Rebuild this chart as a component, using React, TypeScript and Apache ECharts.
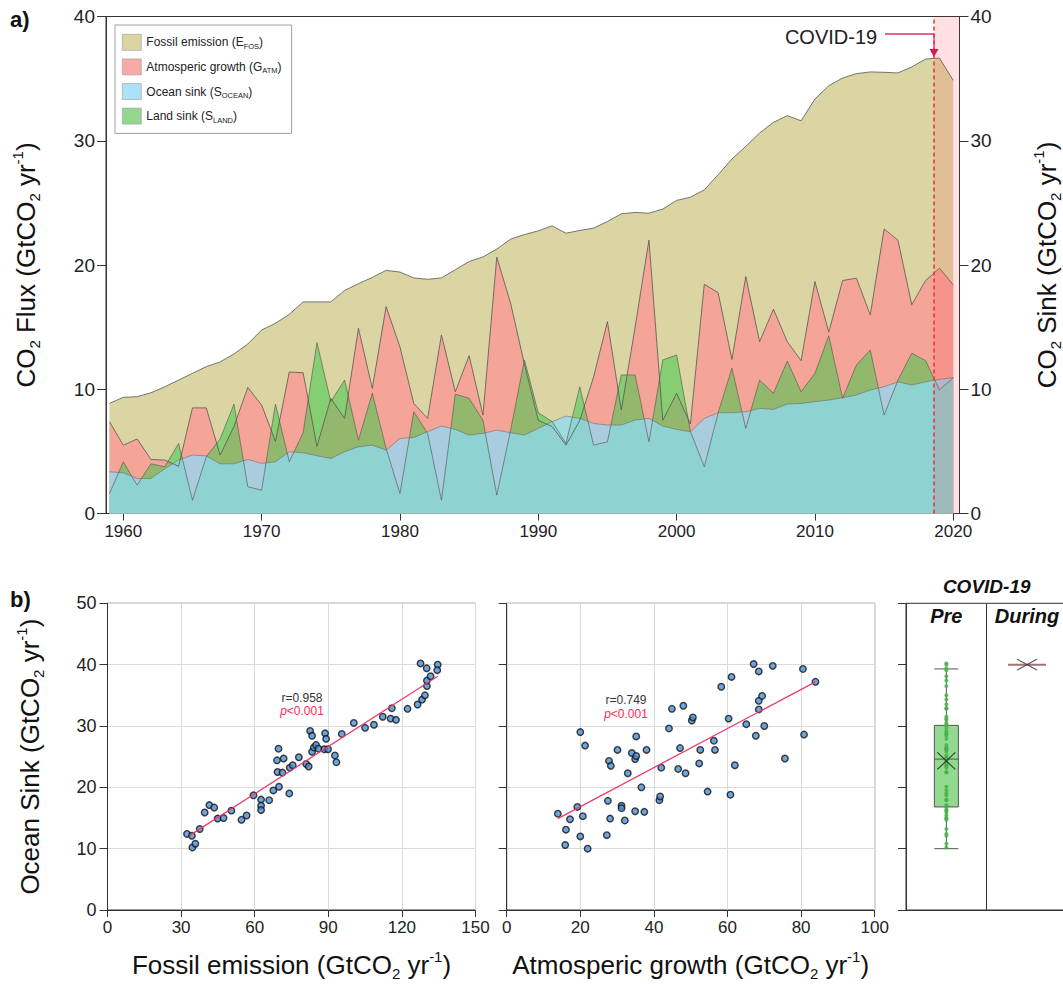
import React, { useEffect, useRef } from "react";
import * as echarts from "echarts";

const FONT = "'Liberation Sans', Arial, Helvetica, sans-serif";

// ---------- panel a) data (GtCO2 / yr) ----------
const YEARS = Array.from({ length: 62 }, (_, i) => 1959 + i);
const FOSSIL = [
  8.86, 9.35, 9.4, 9.72, 10.2, 10.74, 11.28, 11.82, 12.2, 12.84,
  13.64, 14.77, 15.31, 16.03, 17.03, 17.03, 17.03, 17.95, 18.5, 19.0,
  19.57, 19.43, 18.96, 18.85, 18.96, 19.62, 20.28, 20.65, 21.28, 22.08,
  22.45, 22.75, 23.15, 22.56, 22.78, 22.97, 23.5, 24.12, 24.23, 24.17,
  24.5, 25.2, 25.46, 26.05, 27.26, 28.53, 29.55, 30.62, 31.48, 32.02,
  31.61, 33.36, 34.43, 35.05, 35.4, 35.54, 35.51, 35.46, 35.94, 36.58,
  36.66, 34.86,
];
const ATM = [
  7.39, 5.5, 6.0, 4.35, 4.3, 3.8, 8.5, 8.5, 4.7, 7.0,
  10.15, 8.73, 5.8, 11.39, 11.33, 5.4, 9.27, 7.65, 14.9, 10.07,
  16.65, 13.4, 8.86, 7.65, 14.37, 9.8, 12.7, 7.92, 20.63, 16.92,
  12.0, 7.5, 7.0, 5.5, 7.5, 11.0, 15.44, 8.33, 15.0, 22.0,
  7.5, 9.67, 7.2, 18.45, 17.78, 12.4, 19.07, 13.83, 16.44, 13.83,
  12.3, 18.67, 14.6, 18.75, 18.94, 15.98, 22.9, 22.0, 16.8, 18.75,
  19.74, 18.4,
];
const LAND = [
  1.6, 4.16, 2.28, 4.0, 3.76, 5.64, 1.07, 4.57, 6.0, 8.8,
  2.15, 1.88, 8.8, 4.16, 6.5, 13.75, 9.0, 10.74, 5.9, 9.67,
  5.24, 1.61, 8.19, 6.45, 1.07, 9.6, 9.27, 7.5, 1.48, 6.7,
  12.36, 8.1, 7.4, 5.64, 10.2, 5.5, 5.77, 11.15, 11.15, 5.77,
  12.36, 12.76, 6.6, 3.76, 8.1, 11.7, 6.85, 10.74, 9.67, 12.27,
  9.8, 11.28, 14.3, 9.27, 11.95, 13.16, 7.92, 10.74, 12.9, 12.3,
  9.94, 10.93,
];
const OCEAN = [
  3.36, 3.28, 2.82, 2.82, 3.6, 4.3, 4.7, 4.64, 4.0, 4.0,
  4.35, 4.03, 4.16, 4.97, 4.89, 4.65, 4.43, 4.97, 5.37, 5.5,
  5.1, 6.04, 6.12, 6.58, 7.04, 6.77, 6.31, 6.45, 6.71, 6.5,
  6.31, 6.85, 7.39, 7.84, 7.65, 7.25, 7.12, 7.12, 7.52, 7.65,
  7.04, 6.77, 6.58, 7.65, 8.11, 8.11, 8.19, 8.46, 8.38, 8.81,
  8.86, 9.0, 9.13, 9.32, 9.54, 9.94, 10.2, 10.6, 10.34, 10.6,
  10.8, 10.93,
];
const X_TICKS = [1960, 1970, 1980, 1990, 2000, 2010, 2020];
const X_MIN = 1958.75;
const X_MAX = 2020.45;
const COVID_START = 2018.62;

// ---------- panel b) data ----------
const FOSSIL_X = [
  32.4, 34.4, 34.6, 35.8, 37.6, 39.6, 41.5, 43.5, 44.9, 47.3,
  50.5, 54.6, 56.7, 59.5, 62.6, 62.6, 62.6, 65.9, 67.6, 69.9,
  74.1, 69.3, 71.3, 69.1, 71.8, 69.7, 74.3, 75.5, 78.0, 81.0,
  82.0, 82.6, 83.4, 83.4, 84.1, 85.0, 86.0, 88.7, 89.1, 88.4,
  89.9, 92.7, 93.3, 95.5, 100.4, 105.0, 108.6, 112.2, 115.9, 115.4,
  117.6, 122.3, 126.4, 128.2, 129.4, 130.2, 130.2, 131.7, 127.6, 130.1,
  134.6, 134.4,
];
const SINK_Y1 = [
  12.4, 12.1, 10.2, 10.8, 13.2, 15.9, 17.1, 16.7, 14.9, 15.0,
  16.2, 14.7, 15.4, 18.7, 18.0, 17.0, 16.3, 17.9, 19.5, 20.1,
  19.0, 22.5, 22.4, 24.4, 24.7, 26.3, 23.2, 23.6, 24.9, 23.8,
  23.4, 29.2, 28.4, 25.8, 26.5, 26.9, 26.3, 28.8, 27.9, 26.2,
  26.2, 25.2, 24.1, 28.7, 30.5, 29.7, 30.2, 31.5, 32.9, 31.2,
  31.0, 32.8, 33.5, 34.3, 35.0, 36.5, 37.4, 38.1, 40.2, 39.4,
  40.0, 39.1,
];
const FIT1 = [[33.7, 12.2], [134.6, 38.1]];

const ATM_X = [
  13.9, 16.1, 15.9, 17.2, 19.2, 20.0, 20.0, 20.7, 21.3, 22.0,
  27.2, 27.5, 27.8, 28.3, 28.1, 30.1, 31.2, 31.2, 32.1, 32.9,
  34.0, 34.9, 35.2, 35.2, 34.9, 36.6, 37.4, 38.0, 41.5, 41.7,
  42.0, 44.1, 44.9, 46.6, 47.1, 48.0, 48.6, 50.3, 50.6, 52.3,
  52.6, 54.6, 56.3, 56.6, 58.3, 60.3, 60.8, 61.1, 62.0, 65.1,
  67.1, 67.7, 68.5, 68.5, 68.5, 69.4, 70.0, 72.3, 75.6, 80.5,
  80.8, 83.9,
];
const SINK_Y2 = [
  15.7, 13.1, 10.6, 14.8, 16.8, 29.0, 12.0, 15.3, 26.8, 10.0,
  12.2, 17.8, 24.3, 23.5, 14.9, 26.1, 17.0, 16.6, 14.6, 22.3,
  25.6, 24.6, 25.1, 28.3, 16.1, 20.0, 16.0, 26.1, 17.9, 18.5,
  23.2, 29.6, 32.8, 23.0, 26.4, 33.3, 22.3, 30.9, 31.4, 23.9,
  26.1, 19.3, 27.6, 26.1, 36.4, 31.2, 18.8, 38.0, 23.6, 30.3,
  40.1, 28.4, 32.7, 34.1, 38.9, 34.9, 30.0, 39.8, 24.7, 39.3,
  28.6, 37.2,
];
const FIT2 = [[13.9, 14.9], [83.9, 37.2]];

const BOX_CATEGORIES = ["Pre", "During"];
const PRE_BOX = [10.0, 16.8, 24.6, 30.1, 39.3]; // min, Q1, median, Q3, max
const PRE_MEAN = 24.3;
const DURING_VALUE = 40.0;

const SERIES_NAMES = ["Fossil emission", "Atmosperic growth", "Ocean sink", "Land sink"];
const LEGEND_LABELS: Record<string, string> = {
  "Fossil emission": "{a|Fossil emission (E}{s|FOS}{a|)}",
  "Atmosperic growth": "{a|Atmosperic growth (G}{s|ATM}{a|)}",
  "Ocean sink": "{a|Ocean sink (S}{s|OCEAN}{a|)}",
  "Land sink": "{a|Land sink (S}{s|LAND}{a|)}",
};
const SWATCH: Record<string, string> = {
  "Fossil emission": "#dbd5a3",
  "Atmosperic growth": "#f8aaa8",
  "Ocean sink": "#ace2f8",
  "Land sink": "#93d68d",
};

const pairs = (xs: number[], ys: number[]) => xs.map((x, i) => [x, ys[i]]);

const NAME_RICH = {
  a: { fontSize: 26, fontFamily: FONT, color: "#111", lineHeight: 32 },
  s: { fontSize: 15, fontFamily: FONT, color: "#111", lineHeight: 10, verticalAlign: "bottom" },
  p: { fontSize: 15, fontFamily: FONT, color: "#111", lineHeight: 19, verticalAlign: "top" },
};

const X_PATH = "path://M0,0L20,20M20,0L0,20";

export default function App() {
  const ref = useRef<HTMLDivElement>(null);

  useEffect(() => {
    if (!ref.current) return;
    const chart = echarts.init(ref.current, undefined, { renderer: "svg" });

    const tickStyle = { color: "#333", width: 1 };
    const labelBase = { fontFamily: FONT, color: "#222" };
    const gridBase = { show: true, borderColor: "#333", borderWidth: 1, outerBoundsMode: "none", containLabel: false };

    const option: any = {
      animation: false,
      textStyle: { fontFamily: FONT },
      grid: [
        { ...gridBase, left: 106, top: 16.5, width: 853.5, height: 497 },
        { ...gridBase, left: 107.5, top: 603.3, width: 368, height: 306.7 },
        { ...gridBase, left: 506.7, top: 603.3, width: 368, height: 306.7 },
        { ...gridBase, left: 906, top: 603.3, width: 161.4, height: 306.7 },
      ],
      legend: {
        data: SERIES_NAMES.map((n) => ({
          name: n,
          icon: "rect",
          itemStyle: { color: SWATCH[n], borderColor: "#9a9a9a", borderWidth: 0.6 },
        })),
        orient: "vertical",
        left: 115,
        top: 25,
        padding: [9, 10, 9, 7],
        itemWidth: 19,
        itemHeight: 16,
        itemGap: 8,
        backgroundColor: "#fff",
        borderColor: "#a0a0a0",
        borderWidth: 1,
        selectedMode: false,
        formatter: (name: string) => LEGEND_LABELS[name],
        textStyle: {
          rich: {
            a: { fontSize: 12, fontFamily: FONT, color: "#222", lineHeight: 16 },
            s: { fontSize: 7.5, fontFamily: FONT, color: "#222", lineHeight: 6, verticalAlign: "bottom" },
          },
        },
      },
      xAxis: [
        {
          gridIndex: 0,
          type: "value",
          min: X_MIN,
          max: X_MAX,
          axisLine: { show: true, lineStyle: tickStyle },
          axisTick: { show: true, customValues: X_TICKS, length: 7, lineStyle: tickStyle },
          axisLabel: {
            customValues: X_TICKS,
            fontSize: 17,
            margin: 9,
            formatter: (v: number) => String(v),
            ...labelBase,
          },
          splitLine: { show: false },
        },
        {
          gridIndex: 1,
          type: "value",
          min: 0,
          max: 150,
          interval: 30,
          axisLine: { show: true, lineStyle: tickStyle },
          axisTick: { show: true, length: 7, lineStyle: tickStyle },
          axisLabel: { fontSize: 17, margin: 9, ...labelBase },
          splitLine: { show: true, lineStyle: { color: "#dadada", width: 1 } },
          name: "{a|Fossil emission (GtCO}{s|2}{a| yr}{p|-1}{a|)}",
          nameLocation: "middle",
          nameGap: 39,
          nameTextStyle: { rich: NAME_RICH },
        },
        {
          gridIndex: 2,
          type: "value",
          min: 0,
          max: 100,
          interval: 20,
          axisLine: { show: true, lineStyle: tickStyle },
          axisTick: { show: true, length: 7, lineStyle: tickStyle },
          axisLabel: { fontSize: 17, margin: 9, ...labelBase },
          splitLine: { show: true, lineStyle: { color: "#dadada", width: 1 } },
          name: "{a|Atmosperic growth (GtCO}{s|2}{a| yr}{p|-1}{a|)}",
          nameLocation: "middle",
          nameGap: 39,
          nameTextStyle: { rich: NAME_RICH },
        },
        {
          gridIndex: 3,
          type: "category",
          data: BOX_CATEGORIES,
          position: "top",
          axisLine: { show: true, lineStyle: tickStyle },
          axisTick: { show: false },
          axisLabel: {
            inside: true,
            interval: 0,
            margin: 3,
            fontSize: 20,
            fontWeight: "bold",
            fontStyle: "italic",
            ...labelBase,
            color: "#111",
          },
          splitLine: { show: true, interval: 0, lineStyle: { color: "#333", width: 1 } },
          name: "COVID-19",
          nameLocation: "middle",
          nameGap: 7,
          nameTextStyle: { fontSize: 19, fontWeight: "bold", fontStyle: "italic", color: "#111", fontFamily: FONT },
        },
      ],
      yAxis: [
        {
          gridIndex: 0,
          type: "value",
          min: 0,
          max: 40,
          interval: 10,
          position: "left",
          axisLine: { show: true, lineStyle: tickStyle },
          axisTick: { show: true, length: 9, lineStyle: tickStyle },
          axisLabel: { fontSize: 19, margin: 11, ...labelBase },
          splitLine: { show: false },
          name: "{a|CO}{s|2}{a| Flux (GtCO}{s|2}{a| yr}{p|-1}{a|)}",
          nameLocation: "middle",
          nameGap: 64,
          nameRotate: 90,
          nameTextStyle: { rich: NAME_RICH },
        },
        {
          gridIndex: 0,
          type: "value",
          min: 0,
          max: 40,
          interval: 10,
          position: "right",
          axisLine: { show: true, lineStyle: tickStyle },
          axisTick: { show: true, length: 9, lineStyle: tickStyle },
          axisLabel: { fontSize: 19, margin: 11, ...labelBase },
          splitLine: { show: false },
          name: "{a|CO}{s|2}{a| Sink (GtCO}{s|2}{a| yr}{p|-1}{a|)}",
          nameLocation: "middle",
          nameGap: 71,
          nameRotate: 90,
          nameTextStyle: { rich: NAME_RICH },
        },
        {
          gridIndex: 1,
          type: "value",
          min: 0,
          max: 50,
          interval: 10,
          axisLine: { show: true, lineStyle: tickStyle },
          axisTick: { show: true, length: 8, lineStyle: tickStyle },
          axisLabel: { fontSize: 18, margin: 11, ...labelBase },
          splitLine: { show: true, lineStyle: { color: "#dadada", width: 1 } },
          name: "{a|Ocean Sink (GtCO}{s|2}{a| yr}{p|-1}{a|)}",
          nameLocation: "middle",
          nameGap: 62,
          nameRotate: 90,
          nameTextStyle: { rich: NAME_RICH },
        },
        {
          gridIndex: 2,
          type: "value",
          min: 0,
          max: 50,
          interval: 10,
          axisLine: { show: true, lineStyle: tickStyle },
          axisTick: { show: true, length: 8, lineStyle: tickStyle },
          axisLabel: { show: false },
          splitLine: { show: true, lineStyle: { color: "#dadada", width: 1 } },
        },
        {
          gridIndex: 3,
          type: "value",
          min: 0,
          max: 50,
          interval: 10,
          axisLine: { show: true, lineStyle: tickStyle },
          axisTick: { show: true, length: 8, lineStyle: tickStyle },
          axisLabel: { show: false },
          splitLine: { show: false },
        },
      ],
      series: [
        {
          name: "Fossil emission",
          type: "line",
          xAxisIndex: 0,
          yAxisIndex: 0,
          data: pairs(YEARS, FOSSIL),
          symbol: "none",
          lineStyle: { color: "#555", width: 0.8 },
          itemStyle: { color: SWATCH["Fossil emission"] },
          areaStyle: { color: "#dbd5a3", opacity: 1 },
        },
        {
          name: "Atmosperic growth",
          type: "line",
          xAxisIndex: 0,
          yAxisIndex: 0,
          data: pairs(YEARS, ATM),
          symbol: "none",
          lineStyle: { color: "#555", width: 0.8 },
          itemStyle: { color: SWATCH["Atmosperic growth"] },
          areaStyle: { color: "#f5a597", opacity: 1 },
        },
        {
          name: "Land sink",
          type: "line",
          xAxisIndex: 0,
          yAxisIndex: 0,
          data: pairs(YEARS, LAND),
          symbol: "none",
          lineStyle: { color: "#555", width: 0.8, opacity: 0.8 },
          itemStyle: { color: SWATCH["Land sink"] },
          areaStyle: { color: "rgb(64,200,75)", opacity: 0.55 },
        },
        {
          name: "Ocean sink",
          type: "line",
          xAxisIndex: 0,
          yAxisIndex: 0,
          data: pairs(YEARS, OCEAN),
          symbol: "none",
          lineStyle: { color: "#666", width: 0.8, opacity: 0.7 },
          itemStyle: { color: SWATCH["Ocean sink"] },
          areaStyle: { color: "rgb(140,220,250)", opacity: 0.72 },
          markArea: {
            silent: true,
            z: 10,
            itemStyle: { color: "rgba(255,55,75,0.15)" },
            data: [[{ xAxis: COVID_START }, { xAxis: X_MAX }]],
          },
          markLine: {
            silent: true,
            z: 11,
            symbol: "none",
            label: { show: false },
            lineStyle: { color: "#e8303a", type: [4, 3], width: 1.5 },
            data: [{ xAxis: COVID_START }],
          },
        },
        // scatter 1
        {
          type: "scatter",
          xAxisIndex: 1,
          yAxisIndex: 2,
          data: pairs(FOSSIL_X, SINK_Y1),
          symbolSize: 6.5,
          itemStyle: { color: "#4a8fd6", borderColor: "#111", borderWidth: 1.4 },
          z: 3,
        },
        {
          type: "line",
          xAxisIndex: 1,
          yAxisIndex: 2,
          data: FIT1,
          symbol: "none",
          lineStyle: { color: "#ee3a6b", width: 1.3 },
          z: 4,
        },
        // scatter 2
        {
          type: "scatter",
          xAxisIndex: 2,
          yAxisIndex: 3,
          data: pairs(ATM_X, SINK_Y2),
          symbolSize: 6.5,
          itemStyle: { color: "#4a8fd6", borderColor: "#111", borderWidth: 1.4 },
          z: 3,
        },
        {
          type: "line",
          xAxisIndex: 2,
          yAxisIndex: 3,
          data: FIT2,
          symbol: "none",
          lineStyle: { color: "#ee3a6b", width: 1.3 },
          z: 4,
        },
        // box panel
        {
          type: "boxplot",
          xAxisIndex: 3,
          yAxisIndex: 4,
          data: [PRE_BOX],
          boxWidth: [24, 24],
          itemStyle: { color: "#92da8f", borderColor: "#555", borderWidth: 1 },
          z: 2,
        },
        {
          type: "scatter",
          xAxisIndex: 3,
          yAxisIndex: 4,
          data: SINK_Y1.map((v) => [BOX_CATEGORIES[0], v]),
          symbolSize: 4,
          itemStyle: { color: "#49b04a", opacity: 0.85 },
          z: 3,
        },
        {
          type: "scatter",
          xAxisIndex: 3,
          yAxisIndex: 4,
          data: [[BOX_CATEGORIES[0], PRE_MEAN]],
          symbol: X_PATH,
          symbolSize: [18, 17],
          itemStyle: { color: "none", borderColor: "#222", borderWidth: 1.2 },
          z: 4,
        },
        {
          type: "scatter",
          xAxisIndex: 3,
          yAxisIndex: 4,
          data: [[BOX_CATEGORIES[1], DURING_VALUE]],
          symbol: "rect",
          symbolSize: [38, 2],
          itemStyle: { color: "#8c4f4f" },
          z: 3,
        },
        {
          type: "scatter",
          xAxisIndex: 3,
          yAxisIndex: 4,
          data: [[BOX_CATEGORIES[1], DURING_VALUE]],
          symbol: X_PATH,
          symbolSize: [20, 11],
          itemStyle: { color: "none", borderColor: "#333", borderWidth: 1.1 },
          z: 4,
        },
      ],
      graphic: [
        { type: "text", left: 10, top: 8, style: { text: "a)", font: `bold 22px ${FONT}`, fill: "#111" } },
        { type: "text", left: 10, top: 588, style: { text: "b)", font: `bold 22px ${FONT}`, fill: "#111" } },
        {
          type: "text",
          x: 831,
          y: 37,
          style: { text: "COVID-19", font: `20px ${FONT}`, fill: "#222", align: "center", verticalAlign: "middle" },
          z: 20,
        },
        {
          type: "polyline",
          shape: { points: [[885, 34], [934, 34], [934, 50]] },
          style: { stroke: "#e0306a", lineWidth: 1.3, fill: null },
          z: 20,
        },
        {
          type: "polygon",
          shape: { points: [[929.5, 49], [938.5, 49], [934, 57]] },
          style: { fill: "#d81b4f" },
          z: 20,
        },
        {
          type: "text",
          x: 302,
          y: 697.5,
          style: { text: "r=0.958", font: `12px ${FONT}`, fill: "#333", align: "center", verticalAlign: "middle" },
          z: 20,
        },
        {
          type: "text",
          x: 302,
          y: 711,
          style: {
            text: "{i|p}{n|<0.001}",
            align: "center",
            verticalAlign: "middle",
            rich: {
              i: { fontStyle: "italic", fontSize: 12, fontFamily: FONT, fill: "#ff2a55" },
              n: { fontSize: 12, fontFamily: FONT, fill: "#ff2a55" },
            },
          },
          z: 20,
        },
        {
          type: "text",
          x: 626,
          y: 700,
          style: { text: "r=0.749", font: `12px ${FONT}`, fill: "#333", align: "center", verticalAlign: "middle" },
          z: 20,
        },
        {
          type: "text",
          x: 626,
          y: 713.5,
          style: {
            text: "{i|p}{n|<0.001}",
            align: "center",
            verticalAlign: "middle",
            rich: {
              i: { fontStyle: "italic", fontSize: 12, fontFamily: FONT, fill: "#ff2a55" },
              n: { fontSize: 12, fontFamily: FONT, fill: "#ff2a55" },
            },
          },
          z: 20,
        },
      ],
    };

    chart.setOption(option);
    return () => chart.dispose();
  }, []);

  return (
    <div
      ref={ref}
      style={{ position: "fixed", left: 0, top: 0, width: 1063, height: 985, background: "#fff" }}
    />
  );
}
